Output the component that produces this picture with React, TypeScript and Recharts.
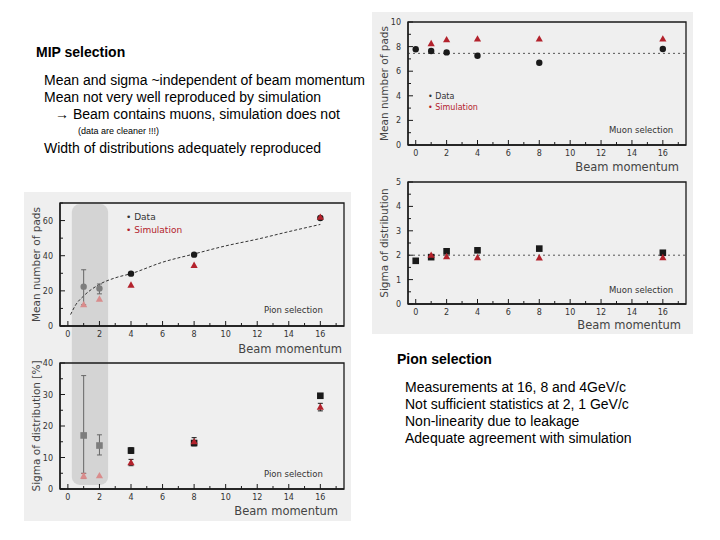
import React from "react";
import {
  ComposedChart,
  ErrorBar,
  Line,
  ReferenceArea,
  ReferenceLine,
  Scatter,
  XAxis,
  YAxis,
} from "recharts";

const FONT = "'DejaVu Sans', sans-serif";
const SLIDE_FONT = "'Liberation Sans', Arial, sans-serif";
const PANEL = "#efefef";
const INK = "#1a1a1a";
const TEXT = "#333";
const SIM_RED = "#b3222c";
const BAND_DATA = "#7d7d7d";
const BAND_SIM = "#d98c8c";
const BAND_FILL = "#d4d4d4";

// x axis (beam momentum, GeV/c)
const momentumDomain = [-0.5, 17.5];
const momentumTicks = [0, 1, 2, 3, 4, 5, 6, 7, 8, 9, 10, 11, 12, 13, 14, 15, 16, 17];
const momentumLabels = [0, 2, 4, 6, 8, 10, 12, 14, 16];

// muon (MIP) selection
const muonMomentum = [0, 1, 2, 4, 8, 16];
const muonMeanData = [7.78, 7.64, 7.53, 7.26, 6.69, 7.8];
const muonSimMomentum = [1, 2, 4, 8, 16];
const muonMeanSim = [8.24, 8.56, 8.62, 8.62, 8.62];
const muonMeanRef = 7.45;
const muonMeanTicks = [0, 1, 2, 3, 4, 5, 6, 7, 8, 9, 10];
const muonMeanLabels = [0, 2, 4, 6, 8, 10];

const muonSigmaData = [1.77, 1.92, 2.16, 2.2, 2.27, 2.1];
const muonSigmaSim = [2.0, 1.94, 1.9, 1.89, 1.9];
const muonSigmaRef = 2.0;
const muonSigmaTicks = [0, 0.5, 1, 1.5, 2, 2.5, 3, 3.5, 4, 4.5, 5];
const muonSigmaLabels = [0, 1, 2, 3, 4, 5];

// pion selection
const pionMomentum = [1, 2, 4, 8, 16];
const pionMeanData = [22.4, 21.4, 29.8, 40.6, 61.5];
const pionMeanDataErr = [[10.3, 9.6], [3.1, 2.5], 0, 0, 0];
const pionMeanSim = [12.1, 15.3, 23.3, 34.5, 61.9];
const fitMomentum = [0.17, 0.5, 1, 2, 3, 4, 6, 8, 10, 12, 14, 16];
const fitMean = [6.5, 12.1, 17.1, 23.7, 27.4, 29.8, 36.3, 41, 45.6, 49.4, 53.7, 57.8];
const pionMeanTicks = [0, 10, 20, 30, 40, 50, 60, 70];
const pionMeanLabels = [0, 20, 40, 60];

const pionSigmaData = [17.0, 13.8, 12.2, 14.6, 29.6];
const pionSigmaDataErr = [[12, 19], [3, 3.4], 0.9, 0.6, 0];
const pionSigmaSim = [4.1, 4.2, 8.4, 15.0, 26.0];
const pionSigmaSimErr = [0.8, 0, 1, 1.3, 1.2];
const pionSigmaTicks = [0, 5, 10, 15, 20, 25, 30, 35, 40];
const pionSigmaLabels = [0, 10, 20, 30, 40];

// low-statistics momenta shaded in the pion plots
const lowStatBand = [0.25, 2.55];

type Row = { x: number; y: number; err: number | number[] };

const toRows = (xs: number[], ys: number[], errs?: (number | number[])[]): Row[] =>
  xs.map((x, i) => ({ x, y: ys[i], err: errs ? errs[i] : 0 }));
const inBand = (r: Row) => r.x >= lowStatBand[0] && r.x <= lowStatBand[1];

const TICK_GAP = 3;

const xTick = (props: any) => {
  const { x, y, payload } = props;
  const major = momentumLabels.includes(payload.value);
  const axisY = y - TICK_GAP;
  return (
    <g>
      <line x1={x} x2={x} y1={axisY} y2={axisY - (major ? 5 : 3)} stroke={INK} />
      {major && (
        <text x={x} y={y + 8} textAnchor="middle" fontSize={8} fill={TEXT}>
          {payload.value}
        </text>
      )}
    </g>
  );
};

const makeYTick = (labels: number[]) => (props: any) => {
  const { x, y, payload } = props;
  const major = labels.includes(payload.value);
  const axisX = x + 7;
  return (
    <g>
      <line x1={axisX} x2={axisX + (major ? 5 : 3)} y1={y} y2={y} stroke={INK} />
      {major && (
        <text x={x} y={y + 3} textAnchor="end" fontSize={8} fill={TEXT}>
          {payload.value}
        </text>
      )}
    </g>
  );
};

const dot = (color: string) => (p: any) =>
  p.cx == null ? <g /> : <circle cx={p.cx} cy={p.cy} r={3.2} fill={color} />;
const square = (color: string) => (p: any) =>
  p.cx == null ? <g /> : <rect x={p.cx - 3.3} y={p.cy - 3.3} width={6.6} height={6.6} fill={color} />;
const triangle = (color: string) => (p: any) =>
  p.cx == null ? (
    <g />
  ) : (
    <polygon
      points={`${p.cx},${p.cy - 3.8} ${p.cx - 3.6},${p.cy + 2.6} ${p.cx + 3.6},${p.cy + 2.6}`}
      fill={color}
    />
  );

function Plot({
  box,
  top,
  xHeight,
  titleOffset,
  yDomain,
  yTicks,
  yLabels,
  yTitle,
  children,
}: {
  box: number[];
  top: number;
  xHeight: number;
  titleOffset: number;
  yDomain: number[];
  yTicks: number[];
  yLabels: number[];
  yTitle: string;
  children: React.ReactNode;
}) {
  return (
    <div style={{ position: "absolute", left: box[0], top: box[1] }}>
      <ComposedChart
        width={box[2]}
        height={box[3]}
        margin={{ top, right: 7, left: 0, bottom: 0 }}
        style={{ fontFamily: FONT }}
      >
        <XAxis
          type="number"
          dataKey="x"
          domain={momentumDomain}
          ticks={momentumTicks}
          interval={0}
          allowDataOverflow
          tickSize={0}
          tickMargin={TICK_GAP}
          tickLine={false}
          tick={xTick}
          axisLine={{ stroke: INK, strokeWidth: 1.3 }}
          height={xHeight}
          label={{
            value: "Beam momentum",
            position: "insideBottomRight",
            offset: titleOffset,
            fontSize: 11.5,
            fill: "#444",
          }}
        />
        <YAxis
          type="number"
          dataKey="y"
          domain={yDomain}
          ticks={yTicks}
          interval={0}
          allowDataOverflow
          tickSize={0}
          tickMargin={7}
          tickLine={false}
          tick={makeYTick(yLabels)}
          axisLine={{ stroke: INK, strokeWidth: 1.3 }}
          width={36}
          label={{
            value: yTitle,
            angle: -90,
            position: "insideLeft",
            offset: 12,
            fontSize: 10.5,
            fill: "#444",
            style: { textAnchor: "middle" },
          }}
        />
        {children}
        <ReferenceArea
          x1={momentumDomain[0]}
          x2={momentumDomain[1]}
          y1={yDomain[0]}
          y2={yDomain[1]}
          fill="none"
          fillOpacity={0}
          stroke={INK}
          strokeWidth={1.3}
          ifOverflow="visible"
        />
      </ComposedChart>
    </div>
  );
}

const Note = ({ x, y, size, color, children }: any) => (
  <div
    style={{
      position: "absolute",
      left: x,
      top: y,
      fontFamily: FONT,
      fontSize: size,
      lineHeight: 1,
      color: color ?? TEXT,
      whiteSpace: "nowrap",
    }}
  >
    {children}
  </div>
);

const SlideText = ({ x, y, size, bold, children }: any) => (
  <div
    style={{
      position: "absolute",
      left: x,
      top: y,
      fontFamily: SLIDE_FONT,
      fontSize: size,
      fontWeight: bold ? 700 : 400,
      lineHeight: 1,
      color: "#000",
      whiteSpace: "nowrap",
    }}
  >
    {children}
  </div>
);

export default function App() {
  const muonMeanDataRows = toRows(muonMomentum, muonMeanData);
  const muonMeanSimRows = toRows(muonSimMomentum, muonMeanSim);
  const muonSigmaDataRows = toRows(muonMomentum, muonSigmaData);
  const muonSigmaSimRows = toRows(muonSimMomentum, muonSigmaSim);

  const pionMeanDataRows = toRows(pionMomentum, pionMeanData, pionMeanDataErr);
  const pionMeanSimRows = toRows(pionMomentum, pionMeanSim);
  const fitRows = toRows(fitMomentum, fitMean);
  const pionSigmaDataRows = toRows(pionMomentum, pionSigmaData, pionSigmaDataErr);
  const pionSigmaSimRows = toRows(pionMomentum, pionSigmaSim, pionSigmaSimErr);

  return (
    <div style={{ position: "absolute", left: 0, top: 0, width: 720, height: 540, background: "#fff" }}>
      <div style={{ position: "absolute", left: 372, top: 12, width: 321, height: 322, background: PANEL }} />
      <div style={{ position: "absolute", left: 24, top: 192, width: 327, height: 329, background: PANEL }} />

      <SlideText x={36} y={45} size={14} bold>MIP selection</SlideText>
      <SlideText x={44} y={73} size={14}>Mean and sigma ~independent of beam momentum</SlideText>
      <SlideText x={44} y={90} size={14}>Mean not very well reproduced by simulation</SlideText>
      <SlideText x={55} y={107} size={14}>→ Beam contains muons, simulation does not</SlideText>
      <SlideText x={78} y={127} size={9}>(data are cleaner !!!)</SlideText>
      <SlideText x={44} y={141} size={14}>Width of distributions adequately reproduced</SlideText>

      <SlideText x={397} y={352} size={14} bold>Pion selection</SlideText>
      <SlideText x={405} y={380} size={14}>Measurements at 16, 8 and 4GeV/c</SlideText>
      <SlideText x={405} y={397} size={14}>Not sufficient statistics at 2, 1 GeV/c</SlideText>
      <SlideText x={405} y={414} size={14}>Non-linearity due to leakage</SlideText>
      <SlideText x={405} y={431} size={14}>Adequate agreement with simulation</SlideText>

      {/* muon mean */}
      <Plot
        box={[372, 12, 321, 166]}
        top={10}
        xHeight={33}
        titleOffset={7}
        yDomain={[0, 10]}
        yTicks={muonMeanTicks}
        yLabels={muonMeanLabels}
        yTitle="Mean number of pads"
      >
        <ReferenceLine y={muonMeanRef} stroke="#555" strokeDasharray="2 3" />
        <Scatter data={muonMeanDataRows} shape={dot(INK)} isAnimationActive={false} />
        <Scatter data={muonMeanSimRows} shape={triangle(SIM_RED)} isAnimationActive={false} />
      </Plot>

      {/* muon sigma */}
      <Plot
        box={[372, 178, 321, 156]}
        top={4}
        xHeight={30}
        titleOffset={5}
        yDomain={[0, 5]}
        yTicks={muonSigmaTicks}
        yLabels={muonSigmaLabels}
        yTitle="Sigma of distribution"
      >
        <ReferenceLine y={muonSigmaRef} stroke="#555" strokeDasharray="2 3" />
        <Scatter data={muonSigmaDataRows} shape={square(INK)} isAnimationActive={false} />
        <Scatter data={muonSigmaSimRows} shape={triangle(SIM_RED)} isAnimationActive={false} />
      </Plot>

      {/* pion mean */}
      <Plot
        box={[24, 192, 327, 163]}
        top={11}
        xHeight={29}
        titleOffset={2}
        yDomain={[0, 70]}
        yTicks={pionMeanTicks}
        yLabels={pionMeanLabels}
        yTitle="Mean number of pads"
      >
        <ReferenceArea
          x1={lowStatBand[0]}
          x2={lowStatBand[1]}
          y1={-16.5}
          y2={69.4}
          fill={BAND_FILL}
          fillOpacity={1}
          stroke="none"
          radius={[8, 8, 0, 0]}
          ifOverflow="visible"
        />
        <Line
          data={fitRows}
          dataKey="y"
          type="monotone"
          stroke="#333"
          strokeWidth={1}
          strokeDasharray="3 2"
          dot={false}
          isAnimationActive={false}
        />
        <Scatter data={pionMeanDataRows.filter(inBand)} shape={dot(BAND_DATA)} isAnimationActive={false}>
          <ErrorBar dataKey="err" direction="y" width={2.5} stroke="#666" strokeWidth={1} />
        </Scatter>
        <Scatter data={pionMeanDataRows.filter((r) => !inBand(r))} shape={dot(INK)} isAnimationActive={false} />
        <Scatter data={pionMeanSimRows.filter(inBand)} shape={triangle(BAND_SIM)} isAnimationActive={false} />
        <Scatter data={pionMeanSimRows.filter((r) => !inBand(r))} shape={triangle(SIM_RED)} isAnimationActive={false} />
      </Plot>

      {/* pion sigma */}
      <Plot
        box={[24, 355, 327, 166]}
        top={8}
        xHeight={32}
        titleOffset={6}
        yDomain={[0, 40]}
        yTicks={pionSigmaTicks}
        yLabels={pionSigmaLabels}
        yTitle="Sigma of distribution [%]"
      >
        <ReferenceArea
          x1={lowStatBand[0]}
          x2={lowStatBand[1]}
          y1={1.3}
          y2={42.6}
          fill={BAND_FILL}
          fillOpacity={1}
          stroke="none"
          radius={[0, 0, 8, 8]}
          ifOverflow="visible"
        />
        <Scatter data={pionSigmaDataRows.filter(inBand)} shape={square(BAND_DATA)} isAnimationActive={false}>
          <ErrorBar dataKey="err" direction="y" width={2.5} stroke="#666" strokeWidth={1} />
        </Scatter>
        <Scatter data={pionSigmaDataRows.filter((r) => !inBand(r))} shape={square(INK)} isAnimationActive={false}>
          <ErrorBar dataKey="err" direction="y" width={2.5} stroke={INK} strokeWidth={1} />
        </Scatter>
        <Scatter data={pionSigmaSimRows.filter(inBand)} shape={triangle(BAND_SIM)} isAnimationActive={false}>
          <ErrorBar dataKey="err" direction="y" width={2.5} stroke="#b77" strokeWidth={1} />
        </Scatter>
        <Scatter data={pionSigmaSimRows.filter((r) => !inBand(r))} shape={triangle(SIM_RED)} isAnimationActive={false}>
          <ErrorBar dataKey="err" direction="y" width={2.5} stroke={INK} strokeWidth={1} />
        </Scatter>
      </Plot>

      {/* legends and selection tags */}
      <Note x={428} y={93} size={8}>• Data</Note>
      <Note x={428} y={104} size={8} color={SIM_RED}>• Simulation</Note>
      <Note x={609} y={126} size={8.5}>Muon selection</Note>
      <Note x={609} y={286} size={8.5}>Muon selection</Note>
      <Note x={126} y={213} size={9}>• Data</Note>
      <Note x={126} y={226} size={9} color={SIM_RED}>• Simulation</Note>
      <Note x={264} y={306} size={8.5}>Pion selection</Note>
      <Note x={264} y={470} size={8.5}>Pion selection</Note>
    </div>
  );
}
